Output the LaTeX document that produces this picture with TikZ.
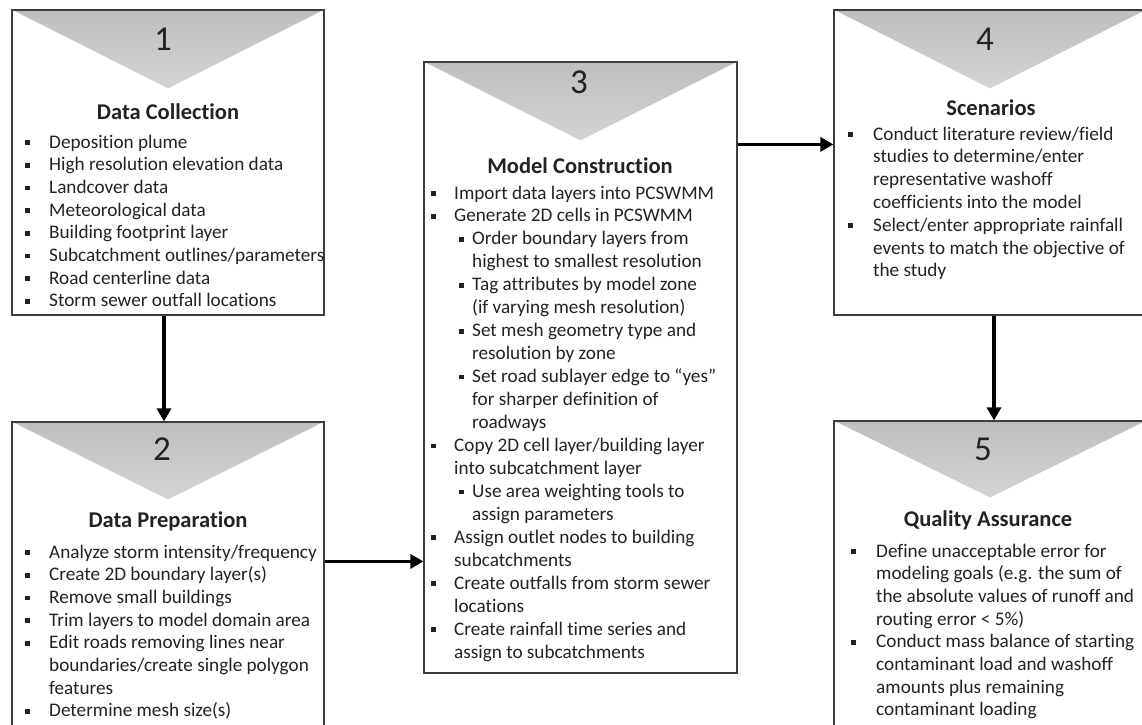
\documentclass[tikz,border=0pt]{standalone}
\usepackage{fontspec}
\setmainfont{Carlito}[Ligatures=NoCommon]
\usetikzlibrary{arrows.meta,backgrounds,calc}
\definecolor{txt}{HTML}{222222}
\definecolor{edgec}{HTML}{3C3C3C}
\definecolor{triT}{HTML}{BEBEBE}
\definecolor{triB}{HTML}{D4D4D4}
\newcommand\bul{\rule[3.2pt]{4.6pt}{4.6pt}}
\newcommand\LA[2]{\hbox{\rlap{\bul}\kern#1pt #2}}
\newcommand\LC[2]{\hbox{\kern#1pt #2}}
\newcommand\LS[1]{\hbox{\kern28pt\rlap{\bul}\kern13pt #1}}
\newcommand\LSC[1]{\hbox{\kern41pt #1}}
\newcommand\lines[2]{\vtop{\baselineskip=#1pt\lineskiplimit=-100pt\lineskip=0pt #2}}
\begin{document}
\begin{tikzpicture}[x=1pt,y=-1pt,
  box/.style={draw=edgec, line width=1.2pt, inner sep=0pt, rectangle},
  num/.style={inner sep=0pt, text=txt, font=\fontsize{35}{40}\selectfont, anchor=base},
  ttl/.style={inner sep=0pt, text=txt, font=\fontsize{22.5}{26}\selectfont\bfseries, anchor=base},
  body/.style={inner sep=0pt, text=txt, font=\fontsize{19.2}{22.7}\selectfont, anchor=base west},
  arr/.style={line width=3.8pt, -{Triangle[length=13pt,width=14pt]}},
  tri/.style={top color=triT, bottom color=triB}]
\clip (0,0) rectangle (1142,724);
\useasboundingbox (0,0) rectangle (1142,724);

% boxes
\node[box, minimum width=312pt, minimum height=305pt] (b1) at (168,162.5) {};
\node[box, minimum width=312pt, minimum height=338pt] (b2) at (168,591) {};
\node[box, minimum width=313pt, minimum height=611pt] (b3) at (580.5,367.5) {};
\node[box, minimum width=312pt, minimum height=305pt] (b4) at (990,162.5) {};
\node[box, minimum width=312pt, minimum height=339pt] (b5) at (990,590.5) {};

\begin{scope}[on background layer]
  \shade[tri] (b1.north west) -- (b1.north east) -- ($(b1.north)+(0,79)$) -- cycle;
  \shade[tri] (b2.north west) -- (b2.north east) -- ($(b2.north)+(0,78)$) -- cycle;
  \shade[tri] (b3.north west) -- (b3.north east) -- ($(b3.north)+(0,79)$) -- cycle;
  \shade[tri] (b4.north west) -- (b4.north east) -- ($(b4.north)+(0,79)$) -- cycle;
  \shade[tri] (b5.north west) -- (b5.north east) -- ($(b5.north)+(0,77)$) -- cycle;
\end{scope}

% numbers
\node[num] (n1) at (163,50) {1};
\node[num] (n2) at (162,460) {2};
\node[num] (n3) at (579,93) {3};
\node[num] (n4) at (985,50) {4};
\node[num] (n5) at (983,460) {5};

% titles
\node[ttl] (h1) at (168,119) {Data Collection};
\node[ttl] (h2) at (168,527) {Data Preparation};
\node[ttl] (h3) at (580,173) {Model Construction};
\node[ttl] (h4) at (991,115) {Scenarios};
\node[ttl] (h5) at (988,526) {Quality Assurance};

% items
\node[body] (i1) at (25,148) {\lines{22.7}{%
  \LA{24}{Deposition plume}
  \LA{24}{High resolution elevation data}
  \LA{24}{Landcover data}
  \LA{24}{Meteorological data}
  \LA{24}{Building footprint layer}
  \LA{24}{Subcatchment outlines/parameters}
  \LA{24}{Road centerline data}
  \LA{24}{Storm sewer outfall locations}}};

\node[body] (i2) at (25,558) {\lines{22.7}{%
  \LA{24}{Analyze storm intensity/frequency}
  \LA{24}{Create 2D boundary layer(s)}
  \LA{24}{Remove small buildings}
  \LA{24}{Trim layers to model domain area}
  \LA{24}{Edit roads removing lines near}
  \LC{24}{boundaries/create single polygon}
  \LC{24}{features}
  \LA{24}{Determine mesh size(s)}}};

\node[body] (i3) at (431,199) {\lines{22.95}{%
  \LA{23}{Import data layers into PCSWMM}
  \LA{23}{Generate 2D cells in PCSWMM}
  \LS{Order boundary layers from}
  \LSC{highest to smallest resolution}
  \LS{Tag attributes by model zone}
  \LSC{(if varying mesh resolution)}
  \LS{Set mesh geometry type and}
  \LSC{resolution by zone}
  \LS{Set road sublayer edge to “yes”}
  \LSC{for sharper definition of}
  \LSC{roadways}
  \LA{23}{Copy 2D cell layer/building layer}
  \LC{23}{into subcatchment layer}
  \LS{Use area weighting tools to}
  \LSC{assign parameters}
  \LA{23}{Assign outlet nodes to building}
  \LC{23}{subcatchments}
  \LA{23}{Create outfalls from storm sewer}
  \LC{23}{locations}
  \LA{23}{Create rainfall time series and}
  \LC{23}{assign to subcatchments}}};

\node[body] (i4) at (848,140) {\lines{22.8}{%
  \LA{25}{Conduct literature review/field}
  \LC{25}{studies to determine/enter}
  \LC{25}{representative washoff}
  \LC{25}{coefficients into the model}
  \LA{25}{Select/enter appropriate rainfall}
  \LC{25}{events to match the objective of}
  \LC{25}{the study}}};

\node[body] (i5) at (851,557) {\lines{22.7}{%
  \LA{25}{Define unacceptable error for}
  \LC{25}{modeling goals (e.g. the sum of}
  \LC{25}{the absolute values of runoff and}
  \LC{25}{routing error < 5\%)}
  \LA{25}{Conduct mass balance of starting}
  \LC{25}{contaminant load and washoff}
  \LC{25}{amounts plus remaining}
  \LC{25}{contaminant loading}}};

% connectors
\draw[arr] ([xshift=-4pt]b1.south) -- ([xshift=-4pt]b2.north);
\path (b2.north east) ++(0,140) coordinate (c23);
\draw[arr] (c23) -- (c23 -| b3.west);
\path (b3.north east) ++(0,83) coordinate (c34);
\draw[arr] (c34) -- (c34 -| b4.west);
\draw[arr] ([xshift=4pt]b4.south) -- ([xshift=4pt]b5.north);
\end{tikzpicture}
\end{document}
